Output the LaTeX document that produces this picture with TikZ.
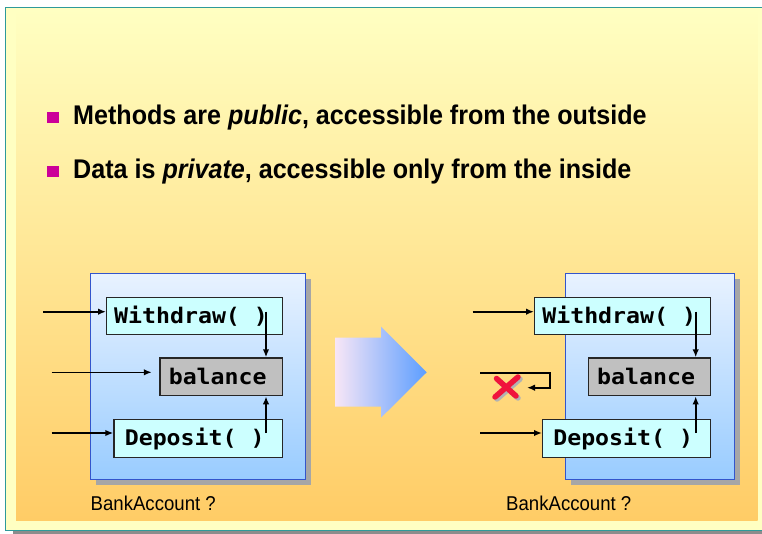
\documentclass[tikz,border=0pt]{standalone}
\usepackage{fontspec}
\setmainfont{Liberation Sans}
\newfontfamily\narrowsans[FakeStretch=0.93]{Liberation Sans}
\newfontfamily\codefont[FakeStretch=1.08]{DejaVu Sans Mono}
\usetikzlibrary{arrows.meta,shadows}

\definecolor{frameedge}{HTML}{2E9A9A}
\definecolor{paleyellow}{HTML}{FFFFC2}
\definecolor{warmorange}{HTML}{FFCC66}
\definecolor{boxtop}{HTML}{E8F2FF}
\definecolor{boxbottom}{HTML}{99CCFF}
\definecolor{boxedge}{HTML}{3355CC}
\definecolor{methodfill}{HTML}{CCFFFF}
\definecolor{datafill}{HTML}{C0C0C0}
\definecolor{bulletpink}{HTML}{CC0099}
\definecolor{arrowpale}{HTML}{F8E6F6}
\definecolor{arrowblue}{HTML}{5C9EFF}
\definecolor{crossred}{HTML}{F0143C}

\tikzset{
  classbox/.style={draw=boxedge, line width=1.2pt, top color=boxtop, bottom color=boxbottom,
    anchor=north west, inner sep=0pt,
    drop shadow={shadow xshift=5pt, shadow yshift=-5pt, fill=black!35, opacity=1}},
  member/.style={draw=black!85, line width=1.4pt, inner sep=0pt, anchor=north west,
    font=\codefont\bfseries\fontsize{21.5}{24}\selectfont,
    execute at begin node=\hspace*{-7pt}},
  method/.style={member, fill=methodfill},
  datafield/.style={member, fill=datafill},
  link/.style={line width=1.6pt, -{Latex[length=8pt,width=6.5pt]}},
  caption/.style={anchor=base west, inner sep=0pt, font=\narrowsans\fontsize{20}{24}\selectfont},
  pointtext/.style={anchor=base west, inner sep=0pt, font=\narrowsans\bfseries\fontsize{27}{32}\selectfont},
  bulletmark/.style={fill=bulletpink, minimum width=12pt, minimum height=11pt, inner sep=0pt},
}

\begin{document}
\begin{tikzpicture}[x=1pt,y=-1pt]
\useasboundingbox (0,0) rectangle (762,534);
\fill[white] (0,0) rectangle (762,534);

% slide frame with its shadow and warm gradient panel
\fill[black!45] (13,12) rectangle (770,534);
\filldraw[fill=paleyellow, draw=frameedge, line width=1.5pt] (5.5,7.5) rectangle (772,530.5);
\shade[top color=paleyellow, bottom color=warmorange] (16,8.3) rectangle (757.7,520.7);

% bullet points
\node[bulletmark] (b1) at (53,117.2) {};
\node[pointtext] (t1) at (73,125) {Methods are \textit{public}, accessible from the outside};
\node[bulletmark] (b2) at (53,171.3) {};
\node[pointtext] (t2) at (73,178.5) {Data is \textit{private}, accessible only from the inside};

% ---- left: BankAccount as seen from outside ----
\node[classbox, minimum width=215pt, minimum height=205.7pt] (accL) at (90,273.3) {};
\node[method, minimum width=175.7pt, minimum height=37.3pt] (wL) at (106,296.7) {Withdraw( )};
\node[datafield, minimum width=122.4pt, minimum height=37.7pt] (balL) at (159.3,357.3) {balance};
\node[method, minimum width=168.4pt, minimum height=37.7pt] (dL) at (113.3,419) {Deposit( )};
\node[caption] (capL) at (90.5,510.5) {BankAccount ?};

\coordinate (inWL) at (43.3,311.7);
\coordinate (inBL) at (51.7,372.3);
\coordinate (inDL) at (51.7,433);
\coordinate (wLout) at (266,311.7);
\coordinate (dLout) at (266,433);
\draw[link] (inWL) -- (inWL -| wL.west);
\draw[link] (inBL) -- ([xshift=-7.5pt]inBL -| balL.west);
\draw[link] (inDL) -- (inDL -| dL.west);
\draw[link] (wLout) -- (wLout |- balL.north);
\draw[link] (dLout) -- (dLout |- balL.south);

% ---- the big transition arrow ----
\shade[left color=arrowpale, right color=arrowblue]
  (335,337.7) -- (381,337.7) -- (381,326.7) -- (426.7,372.3) -- (381,417.7)
  -- (381,406.7) -- (335,406.7) -- cycle;

% ---- right: BankAccount with its data hidden ----
\node[classbox, minimum width=169pt, minimum height=205.7pt] (accR) at (565,273.3) {};
\node[method, minimum width=176pt, minimum height=37.3pt] (wR) at (534,296.7) {Withdraw( )};
\node[datafield, minimum width=122.3pt, minimum height=37.7pt] (balR) at (587.7,357.3) {balance};
\node[method, minimum width=168pt, minimum height=37.7pt] (dR) at (542,419) {Deposit( )};
\node[caption] (capR) at (506,510.5) {BankAccount ?};

\coordinate (inWR) at (472.7,311.7);
\coordinate (inDR) at (480,433);
\coordinate (wRout) at (695.7,311.7);
\coordinate (dRout) at (695.7,433);
\draw[link] (inWR) -- (inWR -| wR.west);
\draw[link] (inDR) -- (inDR -| dR.west);
\draw[link] (wRout) -- (wRout |- balR.north);
\draw[link] (dRout) -- (dRout |- balR.south);

% direct access to the data is turned back
\coordinate (inBR) at (480,372.7);
\coordinate (bendA) at (550,372.7);
\coordinate (bendB) at (550,387.7);
\coordinate (backEnd) at (527,387.7);
\draw[link] (inBR) -- (bendA) -- (bendB) -- (backEnd);

% red cross marking the refused access
\coordinate (cross) at (507,387);
\begin{scope}[shift={(cross)}, line cap=round, line width=5.5pt]
  \draw[black!30] (-8.5,-6.5) -- (11,11);
  \draw[black!30] (13,-8) -- (-10,12);
  \draw[crossred] (-10.5,-8.5) -- (9,9);
  \draw[crossred] (11,-10) -- (-12,10);
\end{scope}
\end{tikzpicture}
\end{document}
